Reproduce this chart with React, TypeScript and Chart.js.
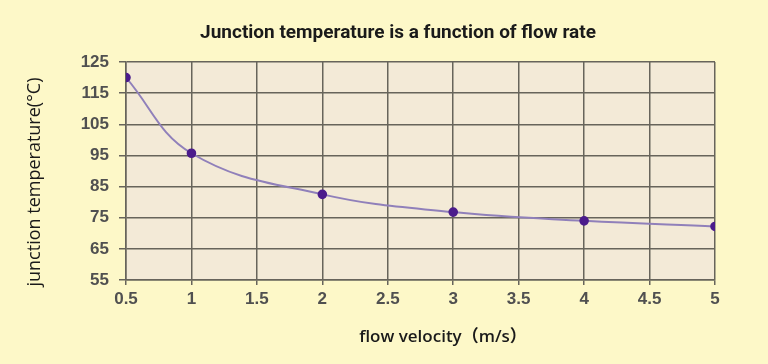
import React, { useEffect, useRef } from "react";
import { Chart, registerables } from "chart.js";

Chart.register(...registerables);

const flowVelocity = [0.5, 1, 2, 3, 4, 5];
const junctionTemp = [120, 95.7, 82.5, 76.8, 74, 72.2];
const xTickValues = [0.5, 1, 1.5, 2, 2.5, 3, 3.5, 4, 4.5, 5];
const yTickValues = [55, 65, 75, 85, 95, 105, 115, 125];
const chartTitle = "Junction temperature is a function of flow rate";
const yAxisTitle = "junction temperature(°C)";
const xAxisTitle = "flow velocity（m/s）";

const PAGE_BG = "#fdf8c8";
const PLOT_BG = "#f3ead7";
const GRID = "#67645b";

const textPlugin = {
  id: "textPlugin",
  beforeDraw(chart: any) {
    const { ctx, chartArea } = chart;
    ctx.save();
    ctx.fillStyle = PAGE_BG;
    ctx.fillRect(0, 0, chart.width, chart.height);
    ctx.fillStyle = PLOT_BG;
    ctx.fillRect(chartArea.left, chartArea.top, chartArea.right - chartArea.left, chartArea.bottom - chartArea.top);
    ctx.restore();
  },
  afterDraw(chart: any) {
    const { ctx } = chart;
    ctx.save();
    ctx.fillStyle = "#1a1a1a";
    ctx.textAlign = "center";
    ctx.textBaseline = "middle";
    ctx.font = "bold 19px Roboto";
    ctx.fillText(chartTitle, 398, 33);
    ctx.font = "600 17px 'Open Sans', 'Noto Sans CJK SC'";
    ctx.fillText(xAxisTitle, 443, 337);
    ctx.translate(35, 182);
    ctx.rotate(-Math.PI / 2);
    ctx.font = "500 18px 'Open Sans'";
    ctx.fillText(yAxisTitle, 0, 0);
    ctx.restore();
  },
};

export default function App() {
  const ref = useRef<HTMLCanvasElement>(null);
  useEffect(() => {
    document.body.style.margin = "0";
    document.body.style.background = PAGE_BG;
    const chart = new Chart(ref.current!, {
      type: "line",
      data: {
        datasets: [
          {
            data: flowVelocity.map((x, i) => ({ x, y: junctionTemp[i] })),
            borderColor: "#9080ba",
            borderWidth: 2,
            pointBackgroundColor: "#4b1c8c",
            pointBorderColor: "#4b1c8c",
            pointRadius: 3.8,
            tension: 0.4,
            fill: false,
          },
        ],
      },
      options: {
        responsive: false,
        animation: false,
        layout: { padding: { left: 0, top: 62, right: 53, bottom: 0 } },
        plugins: { legend: { display: false }, tooltip: { enabled: false }, title: { display: false } },
        scales: {
          x: {
            type: "linear",
            min: 0.5,
            max: 5,
            afterFit: (s: any) => { s.height = 84; },
            afterBuildTicks: (s: any) => { s.ticks = xTickValues.map((v) => ({ value: v })); },
            grid: { color: GRID, lineWidth: 1.5, tickLength: 5 },
            border: { color: GRID, width: 1.5 },
            ticks: {
              color: "#505050",
              font: { family: "'Liberation Sans'", size: 17, weight: "bold" },
              padding: 4,
              maxRotation: 0,
              autoSkip: false,
              callback: (v: any) => String(v),
            },
          },
          y: {
            min: 55,
            max: 125,
            afterFit: (s: any) => { s.width = 126; },
            afterBuildTicks: (s: any) => { s.ticks = yTickValues.map((v) => ({ value: v })); },
            grid: { color: GRID, lineWidth: 1.5, tickLength: 7 },
            border: { color: GRID, width: 1.5 },
            ticks: {
              color: "#505050",
              font: { family: "'Liberation Sans'", size: 17, weight: "bold" },
              padding: 10,
              callback: (v: any) => String(v),
            },
          },
        },
      },
      plugins: [textPlugin],
    });
    return () => chart.destroy();
  }, []);
  return <canvas ref={ref} width={768} height={364} style={{ display: "block" }} />;
}
